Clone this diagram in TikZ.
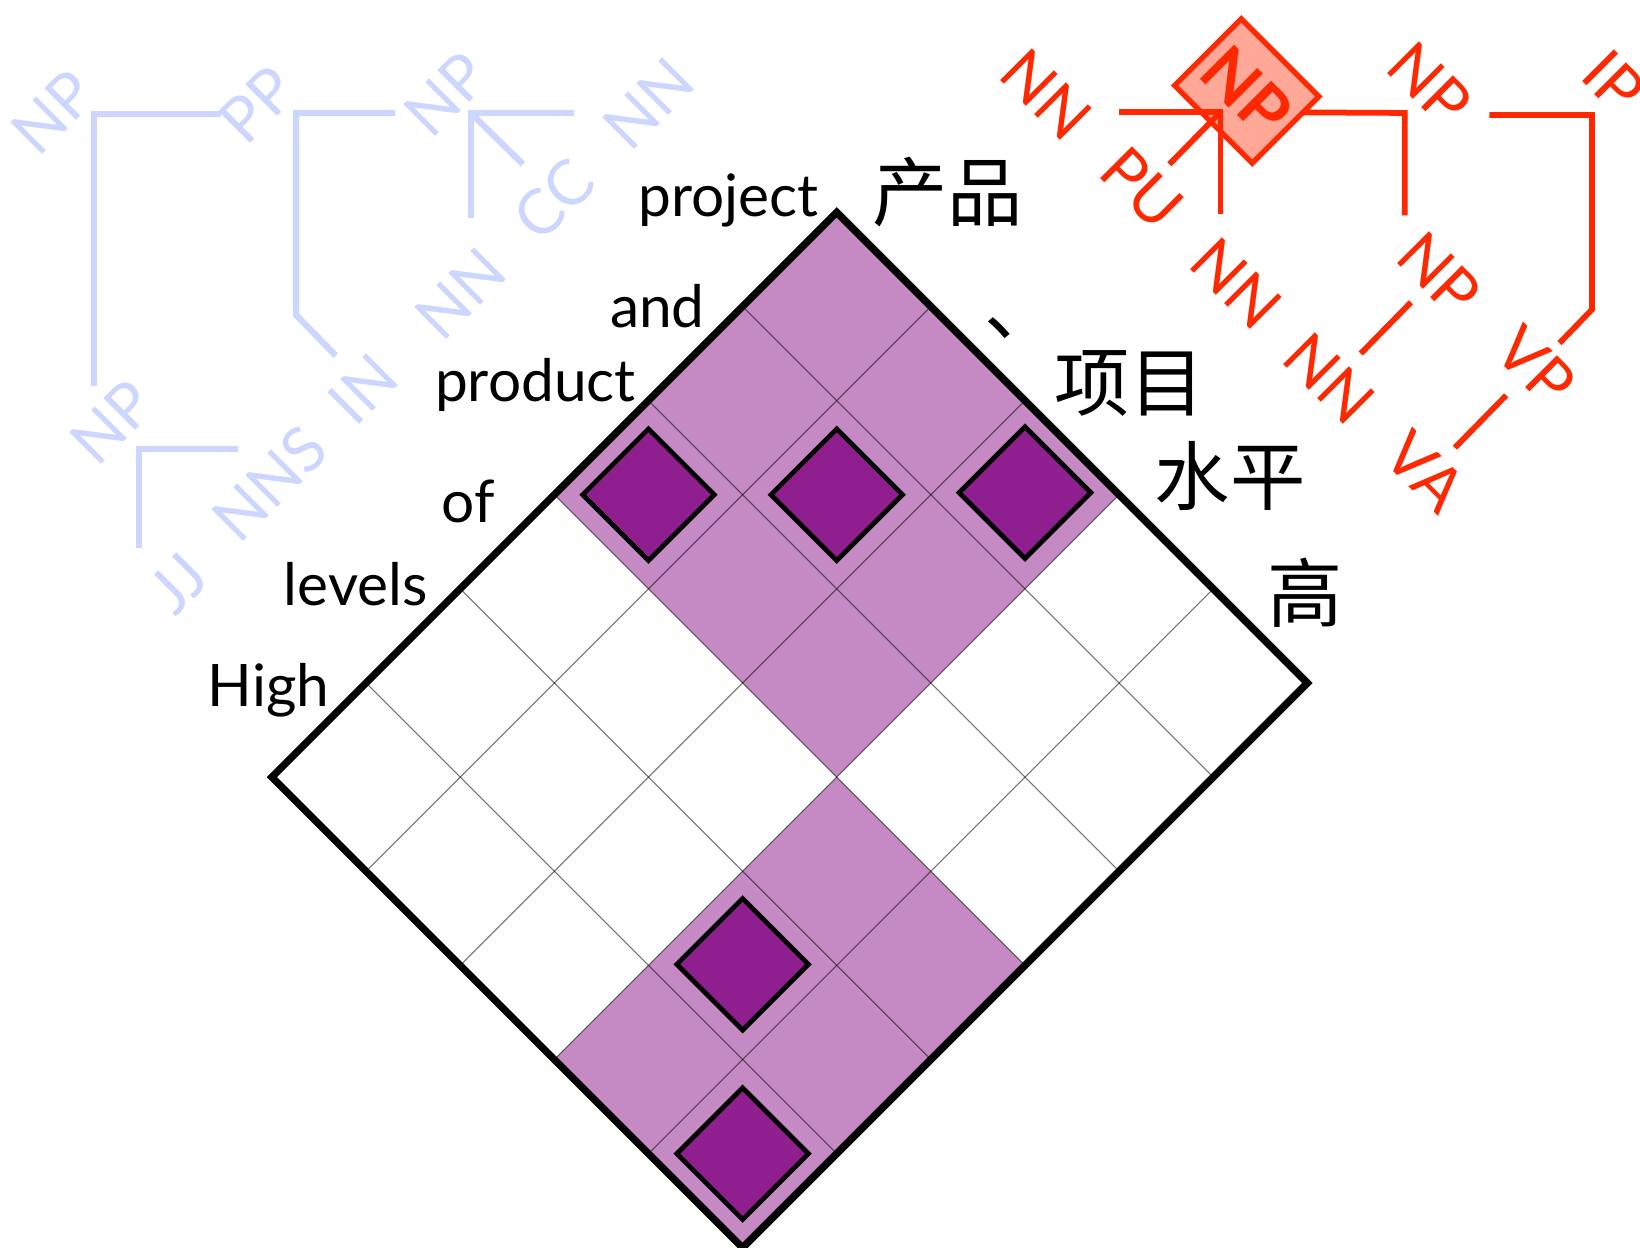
\documentclass[tikz,border=0pt]{standalone}
\usepackage{fontspec}
\setmainfont{Lato}
\newfontfamily\cjk{Noto Sans CJK SC}
\definecolor{lightpurple}{RGB}{197,137,196}
\definecolor{darkpurple}{RGB}{143,31,143}
\definecolor{treeblue}{RGB}{204,214,255}
\definecolor{treered}{RGB}{255,40,0}
\definecolor{salmon}{RGB}{255,168,152}
\begin{document}
\begin{tikzpicture}[x=1pt,y=-1pt,
  enlab/.style={font=\fontsize{56}{60}\selectfont, anchor=base east, inner sep=0pt},
  zhlab/.style={font=\cjk\fontsize{72}{80}\selectfont, inner sep=0pt},
  bluelab/.style={text=treeblue, rotate=45, font=\fontsize{60}{64}\selectfont, inner sep=0pt},
  redlab/.style={text=treered, rotate=-45, font=\fontsize{60}{64}\selectfont, inner sep=0pt},
  blueline/.style={draw=treeblue, line width=6pt},
  redline/.style={draw=treered, line width=5.5pt},
  thinline/.style={draw=black, draw opacity=0.55, line width=0.9pt},
  gridborder/.style={draw=black, line width=7pt, line join=miter},
  lightcell/.style={fill=lightpurple},
  darkbox/.style={draw=black, fill=darkpurple, line width=4.5pt, rotate=45, minimum width=89pt, minimum height=89pt, inner sep=0pt},
  npbox/.style={draw=treered, fill=salmon, line width=5pt, rotate=-45, minimum width=105pt, minimum height=90pt, inner sep=0pt, text=treered, font=\bfseries\fontsize{64}{68}\selectfont}
]
\useasboundingbox (0,0) rectangle (1568,1193);
\clip (0,0) rectangle (1568,1193);

% grid corner coordinates
\foreach \a in {0,...,6}{
  \foreach \b in {0,...,5}{
    \coordinate (g-\a-\b) at ({800+90*(\b-\a)},{203+90*(\a+\b)});
  }
}
% shaded blocks
\fill[lightcell] (g-0-0) -- (g-3-0) -- (g-3-3) -- (g-0-3) -- cycle;
\fill[lightcell] (g-3-3) -- (g-6-3) -- (g-6-5) -- (g-3-5) -- cycle;
% thin grid lines
\foreach \a in {1,...,5} \draw[thinline] (g-\a-0) -- (g-\a-5);
\foreach \b in {1,...,4} \draw[thinline] (g-0-\b) -- (g-6-\b);
% border
\draw[gridborder] (g-0-0) -- (g-6-0) -- (g-6-5) -- (g-0-5) -- cycle;
% alignment boxes
\node[darkbox] (d1) at (620,473) {};
\node[darkbox] (d2) at (800,473) {};
\node[darkbox] (d3) at (980,471) {};
\node[darkbox] (d4) at (710,922) {};
\node[darkbox] (d5) at (710,1103) {};

% English words
\node[enlab] (w1) at (783,207) {project};
\node[enlab] (w2) at (674,313) {and};
\node[enlab] (w3) at (608,384) {product};
\node[enlab] (w4) at (473,500) {of};
\node[enlab] (w5) at (409,579) {levels};
\node[enlab] (w6) at (315,675) {High};

% Chinese words
\node[zhlab] (c1) at (906,184) {产品};
\node[zhlab] (c2) at (977,314) {、};
\node[zhlab] (c3) at (1080,367) {项目};
\node[zhlab] (c4) at (1176,455) {水平};
\node[zhlab] (c5) at (1248,567) {高};

% English tree (light blue)
\node[bluelab] (bnp1) at (51,107) {NP};
\node[bluelab] (bpp) at (246,100) {PP};
\node[bluelab] (bnp3) at (426,90) {NP};
\node[bluelab] (bnn1) at (620,99) {NN};
\node[bluelab] (bcc) at (530,191) {CC};
\node[bluelab] (bnn2) at (440,281) {NN};
\node[bluelab] (bin) at (347,372) {IN};
\node[bluelab] (bnp4) at (107,404) {NP};
\node[bluelab] (bnns) at (258,462) {NNS};
\node[bluelab] (bjj) at (170,558) {JJ};

\coordinate (b1) at (90,109); \coordinate (b1r) at (211,109); \coordinate (b1d) at (90,369);
\coordinate (b2) at (283,108); \coordinate (b2r) at (378,108); \coordinate (b2m) at (283,301); \coordinate (b2e) at (321,340);
\coordinate (b3) at (450,108); \coordinate (b3r) at (549,108); \coordinate (b3d) at (450,208); \coordinate (b3e) at (500,157);
\coordinate (b4) at (133,429); \coordinate (b4r) at (228,429); \coordinate (b4d) at (133,524);
\draw[blueline] (b1r) -- (b1) -- (b1d);
\draw[blueline] (b2r) -- (b2) -- (b2m) -- (b2e);
\draw[blueline] (b3r) -- (b3) -- (b3d);
\draw[blueline] (b3) -- (b3e);
\draw[blueline] (b4r) -- (b4) -- (b4d);

% Chinese tree (red)
\coordinate (J1) at (1167,107); \coordinate (r1l) at (1070,107); \coordinate (r1d) at (1167,205); \coordinate (r1pu) at (1118,157);
\coordinate (J2) at (1343,108); \coordinate (r2d) at (1343,206);
\coordinate (J3) at (1522,110); \coordinate (r3l) at (1424,110); \coordinate (r3m) at (1522,296); \coordinate (r3e) at (1491,328);
\coordinate (r4a) at (1349,289); \coordinate (r4b) at (1301,338);
\coordinate (r5a) at (1440,378); \coordinate (r5b) at (1391,428);
\draw[redline] (J1) -- (J2) -- (r2d);
\node[npbox] (rnpbox) at (1192,87) {NP};
\draw[redline] (r1l) -- (J1) -- (r1d);
\draw[redline] (r1pu) -- (J1);
\draw[redline] (r3l) -- (J3) -- (r3m) -- (r3e);
\draw[redline] (r4a) -- (r4b);
\draw[redline] (r5a) -- (r5b);

\node[redlab] (rnn1) at (1000,90) {NN};
\node[redlab] (rpu) at (1092,180) {PU};
\node[redlab] (rnp2) at (1367,80) {NP};
\node[redlab] (rip) at (1543,78) {IP};
\node[redlab] (rnn2) at (1182,271) {NN};
\node[redlab] (rnp3) at (1376,262) {NP};
\node[redlab] (rnn3) at (1271,362) {NN};
\node[redlab] (rvp) at (1468,350) {VP};
\node[redlab] (rva) at (1363,451) {VA};
\end{tikzpicture}
\end{document}
